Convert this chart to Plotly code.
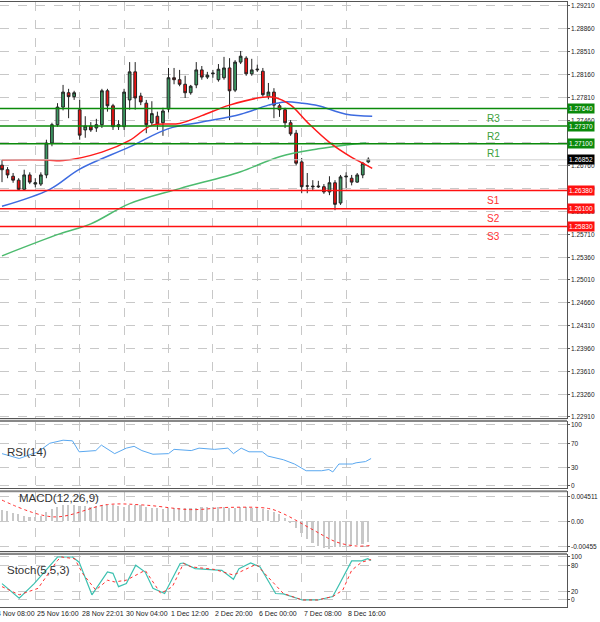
import plotly.graph_objects as go

# ---------------- data ----------------
opens = [1.2677,1.2670,1.2660,1.2654,1.2640,1.2662,1.2648,1.2648,1.2662,1.2711,1.2739,1.2766,1.2788,1.2782,1.2762,1.2731,1.2737,1.2734,1.2739,1.2791,
         1.2768,1.2736,1.2736,1.2777,1.2820,1.2783,1.2772,1.2742,1.2752,1.2742,1.2763,1.2811,1.2808,1.2801,1.2788,1.2800,1.2823,1.2812,1.2817,1.2808,
         1.2811,1.2826,1.2792,1.2835,1.2841,1.2817,1.2823,1.2821,1.2782,1.2789,1.2768,1.2762,1.2742,1.2726,1.2682,1.2645,1.2645,1.2645,1.2644,1.2636,
         1.2650,1.2619,1.2659,1.2657,1.2651,1.2662,1.2682]
highs = [1.2685,1.2674,1.2665,1.2657,1.2670,1.2666,1.2657,1.2666,1.2716,1.2742,1.2772,1.2800,1.2794,1.2791,1.2777,1.2752,1.2743,1.2748,1.2794,1.2794,
         1.2771,1.2746,1.2794,1.2835,1.2835,1.2788,1.2777,1.2775,1.2759,1.2765,1.2826,1.2826,1.2823,1.2814,1.2800,1.2835,1.2829,1.2820,1.2823,1.2832,
         1.2843,1.2841,1.2838,1.2852,1.2844,1.2840,1.2831,1.2826,1.2803,1.2795,1.2771,1.2765,1.2746,1.2731,1.2688,1.2665,1.2654,1.2653,1.2648,1.2660,
         1.2654,1.2662,1.2666,1.2662,1.2665,1.2682,1.2689]
lows = [1.2651,1.2657,1.2650,1.2639,1.2639,1.2648,1.2643,1.2645,1.2657,1.2706,1.2736,1.2761,1.2749,1.2777,1.2716,1.2719,1.2728,1.2728,1.2734,1.2759,
        1.2731,1.2731,1.2731,1.2762,1.2762,1.2769,1.2726,1.2737,1.2731,1.2722,1.2758,1.2801,1.2798,1.2780,1.2785,1.2795,1.2808,1.2809,1.2811,1.2805,
        1.2808,1.2746,1.2789,1.2832,1.2814,1.2814,1.2820,1.2782,1.2778,1.2749,1.2751,1.2734,1.2722,1.2677,1.2634,1.2634,1.2639,1.2642,1.2633,1.2631,
        1.2608,1.2616,1.2642,1.2646,1.2650,1.2657,1.2680]
closes = [1.2670,1.2662,1.2654,1.2640,1.2662,1.2651,1.2650,1.2662,1.2711,1.2739,1.2766,1.2789,1.2782,1.2788,1.2723,1.2737,1.2731,1.2739,1.2791,1.2768,
          1.2736,1.2739,1.2789,1.2820,1.2780,1.2774,1.2739,1.2756,1.2740,1.2760,1.2811,1.2808,1.2801,1.2788,1.2798,1.2823,1.2812,1.2815,1.2818,1.2824,
          1.2826,1.2791,1.2835,1.2844,1.2817,1.2823,1.2824,1.2785,1.2789,1.2769,1.2762,1.2742,1.2725,1.2680,1.2644,1.2645,1.2644,1.2644,1.2636,1.2650,
          1.2617,1.2659,1.2660,1.2651,1.2662,1.2680,1.2686]

ma_red_x = [0, 8, 11, 18, 23, 27, 32, 36, 41, 47, 49, 52, 55, 59, 63, 65, 66.7]
ma_red = [1.2685,1.2685,1.2684,1.2697,1.2715,1.2738,1.2741,1.2753,1.2769,1.2781,1.2781,1.2769,1.2743,1.2712,1.2689,1.2680,1.2672]
ma_blue_x = [0, 8.6, 14, 23, 30, 36, 43, 48, 51, 54, 57, 62, 66.7]
ma_blue = [1.2614,1.2640,1.2671,1.2705,1.2733,1.2743,1.2755,1.2769,1.2774,1.2772,1.2768,1.2755,1.2752]
ma_green_x = [0, 10.5, 16, 23, 32, 43, 50, 57, 62, 65.6]
ma_green = [1.2538,1.2572,1.2587,1.2618,1.2641,1.2667,1.2690,1.2702,1.2708,1.2711]

levels_names = ["R3", "R2", "R1", "S1", "S2", "S3"]
levels_vals = [1.2764, 1.2737, 1.2710, 1.2638, 1.2610, 1.2583]
last_price = 1.26852

rsi_x = [0,3.1,6.5,8.6,11,12.7,13.9,16.9,17.9,20.3,22.4,23.8,25.2,27.2,30,31,34.1,35.5,38.3,40.7,41.7,43.1,44.5,46.9,47.9,50.7,52.7,54.8,57.6,58.9,59.6,60.7,63.1,63.8,65.5,66.5]
rsi = [53,45,56,70,75,74,56,58,67,53,62,65,58,52,53,60,58,62,60,62,53,62,56,56,49,43,36,25,25,27,23,36,36,38,40,45]

macd_hist = [0.0020,0.0018,0.0015,0.0012,0.0010,0.0008,
             0.0007,0.0010,0.0016,0.0022,0.0026,
             0.0028,0.0029,0.0028,0.0027,0.0027,0.0026,0.0027,0.0028,0.0029,0.0028,
             0.0027,0.0026,0.0028,0.0029,0.0028,0.0026,0.0024,0.0023,0.0022,0.0023,
             0.0024,0.0024,0.0023,0.0023,0.0024,0.0025,0.0025,0.0025,0.0025,0.0025,
             0.0024,0.0024,0.0025,0.0025,0.0024,0.0023,0.0022,0.0020,0.0017,0.0012,
             0.0006,-0.0003,-0.0012,-0.0022,-0.0032,-0.0039,-0.0044,-0.0048,-0.0049,-0.0047,
             -0.0047,-0.0046,-0.0044,-0.0042,-0.0040,-0.0038]
macd_sig_x = [0,9.3,19,25.8,34,41,48,50.6,56.2,60.3,63.8,66.5]
macd_sig = [0.0038,0.0008,0.0030,0.0029,0.0021,0.0025,0.0023,0.0014,-0.0016,-0.0037,-0.0044,-0.0043]

stoch_main_x = [0,3.1,5.8,10,12.7,13.9,16.2,19,20,21,22.4,24.1,25.8,27.2,29.3,32.1,32.7,34.8,39.6,41.7,42.7,44.8,46.5,49.3,50.7,54.1,56.9,59.6,61,63,64.8,65.9,66.5]
stoch_main = [38,4,38,100,100,88,12,65,62,31,38,81,65,27,15,85,86,73,69,48,73,86,77,15,14,0,0,8,42,91,91,96,92]
stoch_sig_x = [0,3.1,6.5,10,10.7,13.1,14.5,16.9,19,20.3,22.4,25.8,28.6,30.7,32.7,34.1,38.3,41.7,45.8,47.9,50.7,54.1,56.9,59.6,61.4,63,64.8,66.5]
stoch_sig = [31,12,27,92,100,96,62,23,46,42,46,69,15,31,85,77,71,58,83,54,15,0,0,8,23,69,88,94]

tick_idx = [-2, 6, 14, 22, 30, 38, 46, 54, 62]
tick_lbl = ["24 Nov 08:00", "25 Nov 16:00", "28 Nov 22:01", "30 Nov 04:00", "1 Dec 12:00",
            "2 Dec 20:00", "6 Dec 00:00", "7 Dec 08:00", "8 Dec 16:00"]

price_ticks = [1.22910 + 0.0035 * k for k in range(19)]
rsi_ticks = [0, 30, 70, 100]
macd_ticks = [-0.00455, 0.0, 0.004511]
macd_tick_lbl = ["-0.00455", "0.00", "0.004511"]
stoch_ticks = [0, 20, 80, 100]

# ---------------- figure ----------------
FONT = "Liberation Sans"
GRID = "#c8c8c8"
x_idx = list(range(len(opens)))
XR = [-0.36, 101.8]

fig = go.Figure()
fig.add_trace(go.Candlestick(x=x_idx, open=opens, high=highs, low=lows, close=closes,
                             increasing=dict(fillcolor="#3c9a63", line=dict(color="#222222", width=1)),
                             decreasing=dict(fillcolor="#ee1111", line=dict(color="#222222", width=1)),
                             whiskerwidth=0, xaxis="x", yaxis="y", showlegend=False))
fig.add_trace(go.Scatter(x=ma_green_x, y=ma_green, mode="lines", line=dict(color="#4cbb6e", width=1.5, shape="spline"), xaxis="x", yaxis="y"))
fig.add_trace(go.Scatter(x=ma_blue_x, y=ma_blue, mode="lines", line=dict(color="#3d6be0", width=1.5, shape="spline"), xaxis="x", yaxis="y"))
fig.add_trace(go.Scatter(x=ma_red_x, y=ma_red, mode="lines", line=dict(color="#ff1a1a", width=1.5, shape="spline"), xaxis="x", yaxis="y"))

fig.add_trace(go.Scatter(x=rsi_x, y=rsi, mode="lines", line=dict(color="#5aa8f0", width=1), xaxis="x2", yaxis="y2"))
fig.add_trace(go.Bar(x=x_idx, y=macd_hist, marker=dict(color="#c8c8c8", line=dict(width=0)), width=0.3, xaxis="x3", yaxis="y3"))
fig.add_trace(go.Scatter(x=macd_sig_x, y=macd_sig, mode="lines", line=dict(color="#ff3030", width=1, dash="dot", shape="spline"), xaxis="x3", yaxis="y3"))
fig.add_trace(go.Scatter(x=stoch_main_x, y=stoch_main, mode="lines", line=dict(color="#3cc0b0", width=1.2), xaxis="x4", yaxis="y4"))
fig.add_trace(go.Scatter(x=stoch_sig_x, y=stoch_sig, mode="lines", line=dict(color="#ff3030", width=1, dash="dot"), xaxis="x4", yaxis="y4"))

shapes = []
for name, v in zip(levels_names, levels_vals):
    col = "#0a8a0a" if name.startswith("R") else "#ff1010"
    shapes.append(dict(type="line", xref="x", yref="y", x0=XR[0], x1=XR[1], y0=v, y1=v, line=dict(color=col, width=1.5)))
shapes.append(dict(type="line", xref="x", yref="y", x0=XR[0], x1=XR[1], y0=last_price, y1=last_price, line=dict(color="#d0d0d0", width=1)))
for y0, y1 in [(0.307, 0.3105), (0.191, 0.1945), (0.0875, 0.091)]:
    shapes.append(dict(type="rect", xref="paper", yref="paper", x0=0, x1=1, y0=y0, y1=y1, fillcolor="#888888", line=dict(width=0)))

ann = []
def side_label(yref, v, text):
    ann.append(dict(x=1, y=v, xref="paper", yref=yref, text=text, showarrow=False, xanchor="left", xshift=2,
                    font=dict(family=FONT, size=6.5, color="#222222")))

for v in price_ticks:
    side_label("y", v, f"{v:.5f}")
for v in rsi_ticks:
    side_label("y2", v, str(v))
for v, t in zip(macd_ticks, macd_tick_lbl):
    side_label("y3", v, t)
for v in stoch_ticks:
    side_label("y4", v, str(v))

for name, v in zip(levels_names, levels_vals):
    col = "#0a8a0a" if name.startswith("R") else "#ff1010"
    txtcol = "#3aa03a" if name.startswith("R") else "#ff3030"
    ann.append(dict(x=88.5, y=v, xref="x", yref="y", text=name, showarrow=False, yshift=-10,
                    font=dict(family=FONT, size=10, color=txtcol)))
    ann.append(dict(x=1, y=v, xref="paper", yref="y", text=f"{v:.5f}", showarrow=False, xanchor="left", xshift=0,
                    bgcolor=col, borderpad=1, font=dict(family=FONT, size=6.5, color="white")))
ann.append(dict(x=1, y=last_price, xref="paper", yref="y", text=f"{last_price:.5f}", showarrow=False, xanchor="left", xshift=0,
                bgcolor="#000000", borderpad=1, font=dict(family=FONT, size=6.5, color="white")))
for t, l in zip(tick_idx, tick_lbl):
    ann.append(dict(x=(t - XR[0]) / (XR[1] - XR[0]), y=0, xref="paper", yref="paper", text=l, showarrow=False,
                    xanchor="left", yanchor="top", yshift=0,
                    font=dict(family=FONT, size=7, color="#222222")))
ann.append(dict(x=0.008, y=0.245, xref="paper", yref="paper", text="RSI(14)", showarrow=False, xanchor="left",
                font=dict(family=FONT, size=11.5, color="#333333")))
ann.append(dict(x=0.03, y=0.168, xref="paper", yref="paper", text="MACD(12,26,9)", showarrow=False, xanchor="left",
                font=dict(family=FONT, size=11.5, color="#333333")))
ann.append(dict(x=0.008, y=0.05, xref="paper", yref="paper", text="Stoch(5,5,3)", showarrow=False, xanchor="left",
                font=dict(family=FONT, size=11.5, color="#333333")))

def xax(anchor):
    return dict(range=XR, anchor=anchor, showgrid=True, gridcolor=GRID, griddash="dash", gridwidth=1,
                tickvals=tick_idx[1:], showticklabels=False, ticks="", zeroline=False, automargin=False,
                showline=True, linecolor="#555555", mirror=True, fixedrange=True)

def yax(domain, rng, tv, anchor):
    return dict(domain=domain, range=rng, anchor=anchor, side="right", tickvals=tv, showticklabels=False,
                showgrid=True, gridcolor=GRID, griddash="dash", zeroline=False, ticks="outside", ticklen=2,
                tickcolor="#555555", automargin=False,
                showline=True, linecolor="#555555", mirror=True)

fig.update_layout(
    width=600, height=622, margin=dict(l=0, r=33, t=2, b=14, autoexpand=False),
    paper_bgcolor="white", plot_bgcolor="white", showlegend=False, bargap=0,
    xaxis=dict(xax("y"), rangeslider=dict(visible=False)),
    xaxis2=xax("y2"), xaxis3=xax("y3"), xaxis4=xax("y4"),
    yaxis=yax([0.3135, 1], [1.22894, 1.29271], price_ticks, "x"),
    yaxis2=yax([0.198, 0.307], [-3.3, 104.9], rsi_ticks, "x2"),
    yaxis3=yax([0.094, 0.191], [-0.0053, 0.0052], macd_ticks, "x3"),
    yaxis4=yax([0.0017, 0.0875], [-16.3, 104.7], stoch_ticks, "x4"),
    shapes=shapes, annotations=ann,
)
fig.write_html("out.html", config={"displayModeBar": False},
               post_script="document.body.style.margin='0';document.body.style.overflow='hidden';")
